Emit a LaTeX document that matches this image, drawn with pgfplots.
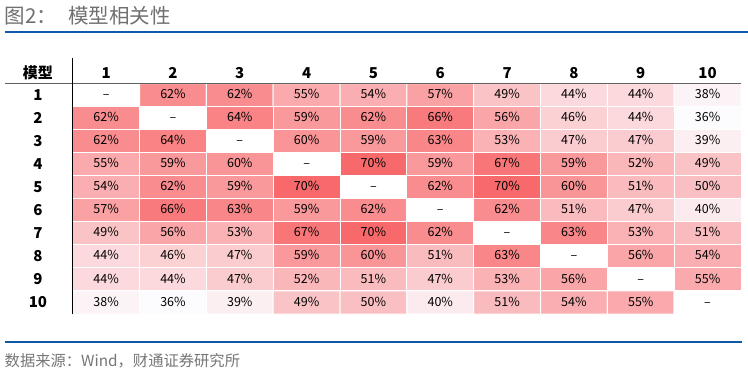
\documentclass[border=0pt]{standalone}
\usepackage{pgfplots}
\pgfplotsset{compat=1.18}
\usepackage{pgfplotstable}
\usepackage{fontspec}
\setmainfont{Liberation Sans}
\newfontfamily\cjk{Noto Sans CJK SC}
\definecolor{titlegray}{RGB}{112,112,112}
\definecolor{srcgray}{RGB}{118,118,118}
\definecolor{lineblue}{RGB}{16,88,168}
\definecolor{rulegray}{RGB}{96,96,96}

% x = column, y = row (row 1 at the top); v = correlation in %, 0 on the diagonal
\pgfplotstableread{
x y v
1 1 0
2 1 62
3 1 62
4 1 55
5 1 54
6 1 57
7 1 49
8 1 44
9 1 44
10 1 38
1 2 62
2 2 0
3 2 64
4 2 59
5 2 62
6 2 66
7 2 56
8 2 46
9 2 44
10 2 36
1 3 62
2 3 64
3 3 0
4 3 60
5 3 59
6 3 63
7 3 53
8 3 47
9 3 47
10 3 39
1 4 55
2 4 59
3 4 60
4 4 0
5 4 70
6 4 59
7 4 67
8 4 59
9 4 52
10 4 49
1 5 54
2 5 62
3 5 59
4 5 70
5 5 0
6 5 62
7 5 70
8 5 60
9 5 51
10 5 50
1 6 57
2 6 66
3 6 63
4 6 59
5 6 62
6 6 0
7 6 62
8 6 51
9 6 47
10 6 40
1 7 49
2 7 56
3 7 53
4 7 67
5 7 70
6 7 62
7 7 0
8 7 63
9 7 53
10 7 51
1 8 44
2 8 46
3 8 47
4 8 59
5 8 60
6 8 51
7 8 63
8 8 0
9 8 56
10 8 54
1 9 44
2 9 44
3 9 47
4 9 52
5 9 51
6 9 47
7 9 53
8 9 56
9 9 0
10 9 55
1 10 38
2 10 36
3 10 39
4 10 49
5 10 50
6 10 40
7 10 51
8 10 54
9 10 55
10 10 0
}\corr

\begin{document}
\begin{tikzpicture}
\path[use as bounding box] (0pt,0pt) rectangle (748pt,-373pt);

% title
\node[anchor=base west, inner sep=0pt, text=titlegray, font=\cjk\fontsize{20.5}{22}\selectfont] at (4.5pt,-23.5pt) {图2：};
\node[anchor=base west, inner sep=0pt, text=titlegray, font=\cjk\fontsize{20.5}{22}\selectfont] at (68pt,-23.5pt) {模型相关性};
\draw[lineblue, line width=1.3pt] (5pt,-32pt) -- (748pt,-32pt);

\begin{axis}[
  at={(72.7pt,-314pt)}, anchor=south west,
  scale only axis, width=668.3pt, height=230.5pt,
  xmin=0.5, xmax=10.5, ymin=0.5, ymax=10.5,
  y dir=reverse,
  enlargelimits=false,
  axis line style={draw=none},
  major tick length=0pt, tick style={draw=none},
  xtick={1,2,3,4,5,6,7,8,9,10},
  xticklabels={1,2,3,4,5,6,7,8,9,10},
  ytick={1,2,3,4,5,6,7,8,9,10},
  yticklabels={1,2,3,4,5,6,7,8,9,10},
  xticklabel pos=right,
  ticklabel style={font=\cjk\bfseries\fontsize{15}{15}\selectfont, text=black},
  xticklabel style={anchor=center, yshift=10.5pt},
  yticklabel style={anchor=center, xshift=-34.7pt},
  colormap={heat}{rgb255(0pt)=(255,255,255); rgb255(36pt)=(252,252,255); rgb255(70pt)=(248,105,107)},
  point meta min=0, point meta max=70,
  clip=false,
]
\addplot[matrix plot, mesh/cols=10, point meta=explicit, shader=faceted, faceted color=white, draw=white, line width=1pt]
  table[x=x, y=y, meta=v] {\corr};
\addplot[draw=none, mark=none, point meta=explicit,
  nodes near coords={\pgfmathfloattoint{\pgfplotspointmeta}\let\cv\pgfmathresult\ifnum\cv=0 –\else\cv\%\fi},
  nodes near coords style={anchor=center, inner sep=0pt, text height=0.72em, text depth=0pt, text=black, font=\cjk\fontsize{12.5}{13}\selectfont}]
  table[x=x, y=y, meta=v] {\corr};
\end{axis}

% header cell, rules
\node[anchor=center, font=\cjk\bfseries\fontsize{15}{15}\selectfont] at (38pt,-73pt) {模型};
\draw[rulegray, line width=1.2pt] (5pt,-83.5pt) -- (741pt,-83.5pt);
\draw[black, line width=0.8pt] (72.7pt,-58pt) -- (72.7pt,-314pt);

% source
\draw[lineblue, line width=1.3pt] (5pt,-342pt) -- (742pt,-342pt);
\node[anchor=base west, inner sep=0pt, text=srcgray, font=\cjk\fontsize{15.3}{16}\selectfont] at (4.5pt,-366pt) {数据来源：Wind，财通证券研究所};
\end{tikzpicture}
\end{document}
